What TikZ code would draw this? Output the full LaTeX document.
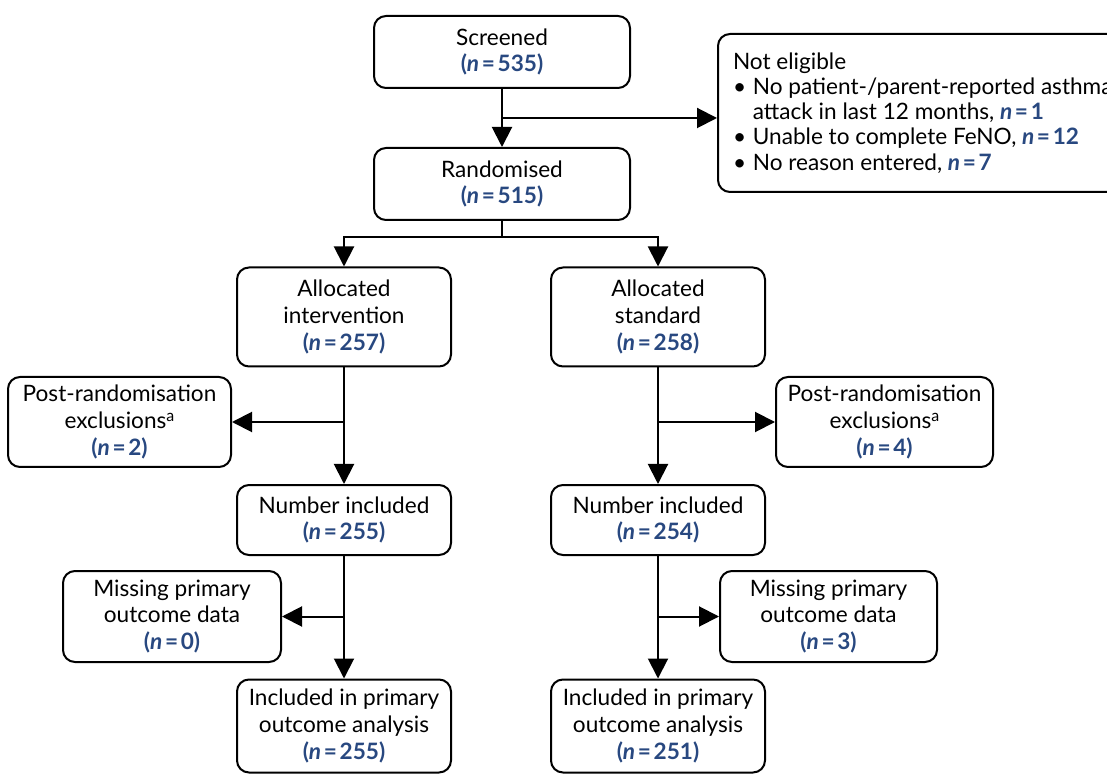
\documentclass[tikz,border=0pt]{standalone}
\usepackage{fontspec}
\setmainfont{Lato}
\usetikzlibrary{arrows.meta}
\definecolor{nblue}{RGB}{40,72,128}
\newcommand{\nval}[1]{\textcolor{nblue}{\bfseries(\textit{n}\kern0.12em=\kern0.12em#1)}}
\newcommand{\nbare}[1]{\textcolor{nblue}{\bfseries\textit{n}\kern0.12em=\kern0.12em#1}}
\newcommand{\supa}{\raisebox{0.6ex}{\fontsize{8}{8}\selectfont a}}
\newcommand{\bul}{\textbullet\kern0.3em}
\tikzset{
  box/.style={draw, line width=1pt, rounded corners=6pt, align=center,
    inner sep=2pt, font=\fontsize{11.3}{13.4}\selectfont},
  arr/.style={line width=1pt, -{Triangle[length=10pt, width=10pt]}},
  link/.style={line width=1pt},
}
\begin{document}
\begin{tikzpicture}[x=0.5pt, y=-0.5pt]
      \useasboundingbox (0,0) rectangle (1107,774);
      %
      \node[box, minimum width=128pt, minimum height=36pt] (screened) at (502,52)
        {Screened\\\nval{535}};                                   % top
      \node[box, minimum width=128pt, minimum height=36pt] (random) at (502,184)
        {Randomised\\\nval{515}};
      \node[box, anchor=west, align=left, inner xsep=7.5pt,
            minimum height=79pt, font=\fontsize{11.3}{12.6}\selectfont] (noteligible) at (717,113)
        {Not eligible\\
         \bul No patient-/parent-reported asthma\\
         \hphantom{\bul}attack in last 12 months, \nbare{1}\\
         \bul Unable to complete FeNO, \nbare{12}\\
         \bul No reason entered, \nbare{7}};
      %
      \node[box, minimum width=107pt, minimum height=49.5pt] (allocint) at (344,317)
        {Allocated\\intervention\\\nval{257}};                    % allocation
      \node[box, minimum width=107pt, minimum height=49.5pt] (allocstd) at (658,317)
        {Allocated\\standard\\\nval{258}};
      %
      \node[box, minimum width=111.5pt, minimum height=45pt] (exclint) at (119.5,422)
        {Post-randomisation\\exclusions\supa\\\nval{2}};
      \node[box, minimum width=108.5pt, minimum height=45pt] (exclstd) at (884.5,422)
        {Post-randomisation\\exclusions\supa\\\nval{4}};
      %
      \node[box, minimum width=107pt, minimum height=35pt] (numint) at (344,520)
        {Number included\\\nval{255}};                             % included
      \node[box, minimum width=107pt, minimum height=35pt] (numstd) at (658,520)
        {Number included\\\nval{254}};
      %
      \node[box, minimum width=109pt, minimum height=45.5pt] (missint) at (172,616.5)
        {Missing primary\\outcome data\\\nval{0}};
      \node[box, minimum width=108.5pt, minimum height=45.5pt] (missstd) at (828.5,616.5)
        {Missing primary\\outcome data\\\nval{3}};
      %
      \node[box, minimum width=107pt, minimum height=46.5pt] (primint) at (344,726)
        {Included in primary\\outcome analysis\\\nval{255}};       % analysis
      \node[box, minimum width=107pt, minimum height=46.5pt] (primstd) at (658,726)
        {Included in primary\\outcome analysis\\\nval{251}};
      %
      \coordinate (elig) at (502,118);
      \coordinate (split) at (502,237);
      %
      \draw[arr] (screened) -- (random);
      \draw[arr] (elig) -- (elig -| noteligible.west);
      \draw[link] (random) -- (split);
      \draw[arr] (split) -| (allocint);
      \draw[arr] (split) -| (allocstd);
      %%
      \draw[arr] (allocint) -- (numint);                       % left arm
      \draw[arr] (allocint |- exclint) -- (exclint);
      \draw[arr] (numint) -- (primint);
      \draw[arr] (numint |- missint) -- (missint);
      %%
      \draw[arr] (allocstd) -- (numstd);                       % right arm
      \draw[arr] (allocstd |- exclstd) -- (exclstd);
      \draw[arr] (numstd) -- (primstd);
      \draw[arr] (numstd |- missstd) -- (missstd);
      %
\end{tikzpicture}
\end{document}
